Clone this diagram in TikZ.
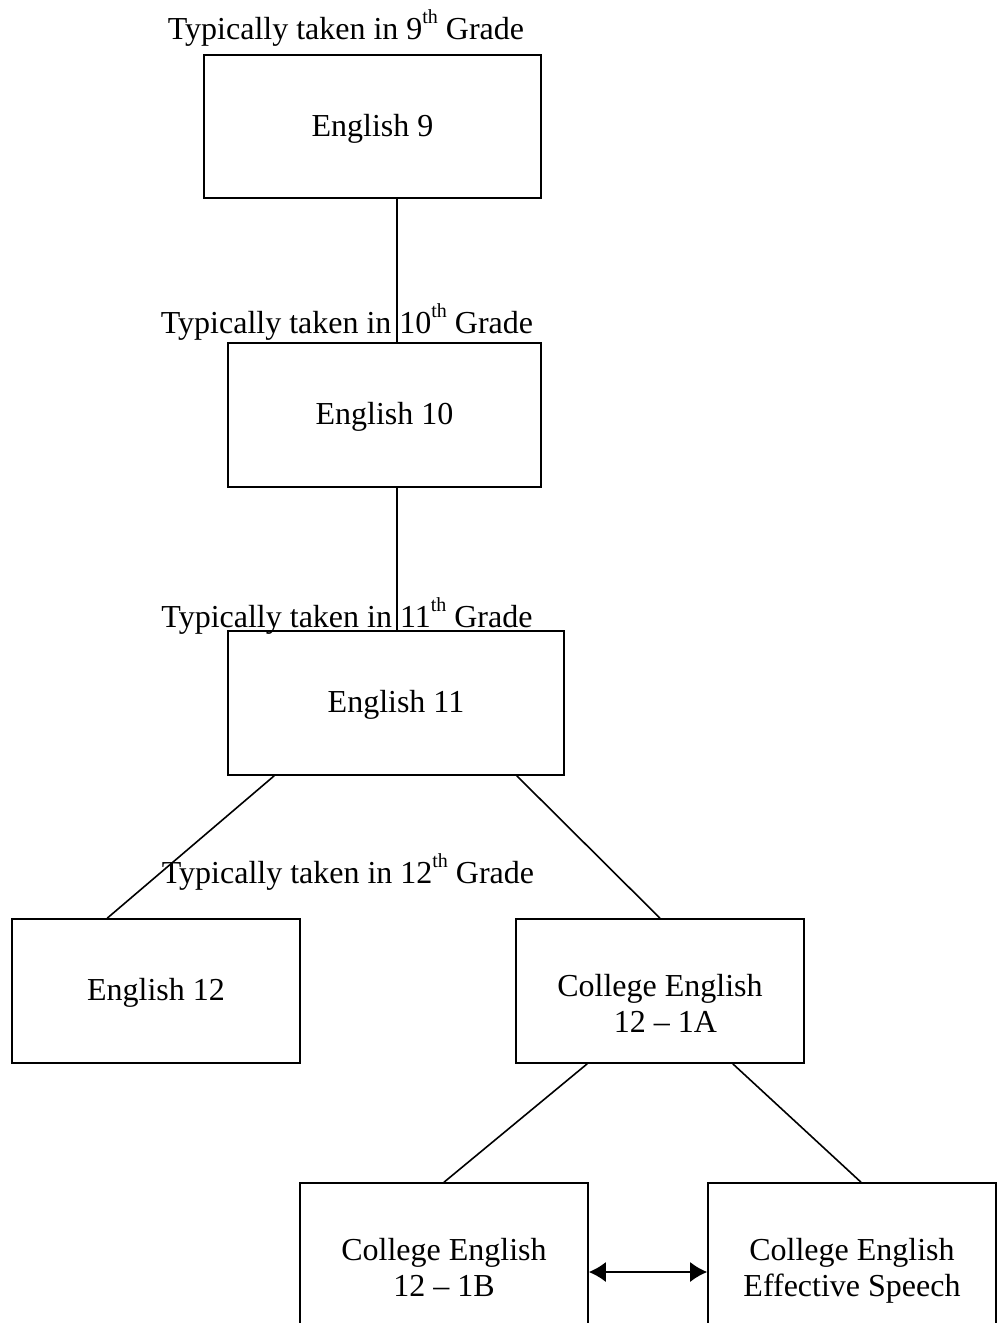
\documentclass[tikz,border=0pt]{standalone}
\usepackage{fontspec}
\setmainfont{Liberation Serif}
\usetikzlibrary{arrows.meta}
\newcommand\mysup[1]{\raisebox{0.52em}{\fontsize{20}{20}\selectfont #1}}
\begin{document}
\begin{tikzpicture}[x=1pt,y=-1pt,
  box/.style={draw,line width=1.6pt,rectangle,inner sep=0pt,minimum width=288pt,minimum height=144pt},
  txt/.style={inner sep=0pt,align=center,font=\fontsize{32}{36}\selectfont},
  lbl/.style={inner sep=0pt,font=\fontsize{32}{36}\selectfont},
  conn/.style={line width=1.6pt}]
\useasboundingbox (0,0) rectangle (997,1323);
\clip (0,0) rectangle (997,1323);
\node[box,minimum width=337pt,minimum height=143pt] (e9) at (372.5,126.5) {};
\node[box,minimum width=313pt] (e10) at (384.5,415) {};
\node[box,minimum width=336pt] (e11) at (396,703) {};
\node[box] (e12) at (156,991) {};
\node[box] (c1a) at (660,991) {};
\node[box] (c1b) at (444,1255) {};
\node[box] (sp) at (852,1255) {};
\node[txt] (t9) at ([yshift=-2pt]e9.center) {English 9};
\node[txt] (t10) at ([yshift=-2pt]e10.center) {English 10};
\node[txt] (t11) at ([yshift=-2pt]e11.center) {English 11};
\node[txt] (t12) at ([yshift=-2pt]e12.center) {English 12};
\node[txt] (t1a) at ([yshift=-12pt]c1a.center) {College English\\\,\,12 -- 1A};
\node[txt] (t1b) at ([yshift=-12pt]c1b.center) {College English\\12 -- 1B};
\node[txt] (tsp) at ([yshift=-16pt]sp.center) {College English\\Effective Speech};
\node[lbl] (l9) at (346,28) {Typically taken in 9\mysup{th} Grade};
\node[lbl] (l10) at (347,322) {Typically taken in 10\mysup{th} Grade};
\node[lbl] (l11) at (347,616) {Typically taken in 11\mysup{th} Grade};
\node[lbl] (l12) at (348,872) {Typically taken in 12\mysup{th} Grade};
\draw[conn] ([xshift=24.5pt]e9.south) -- ([xshift=12.5pt]e10.north);
\draw[conn] ([xshift=12.5pt]e10.south) -- ([xshift=1pt]e11.north);
\draw[conn] ([xshift=47pt]e11.south west) -- ([xshift=96pt]e12.north west);
\draw[conn] ([xshift=-48pt]e11.south east) -- (c1a.north);
\draw[conn] ([xshift=72pt]c1a.south west) -- (c1b.north);
\draw[conn] ([xshift=-72pt]c1a.south east) -- ([xshift=9pt]sp.north);
\draw[conn,{Latex[length=17pt,width=20pt]}-{Latex[length=17pt,width=20pt]}] ([yshift=-17pt]c1b.east) -- ([yshift=-17pt]sp.west);
\end{tikzpicture}
\end{document}
